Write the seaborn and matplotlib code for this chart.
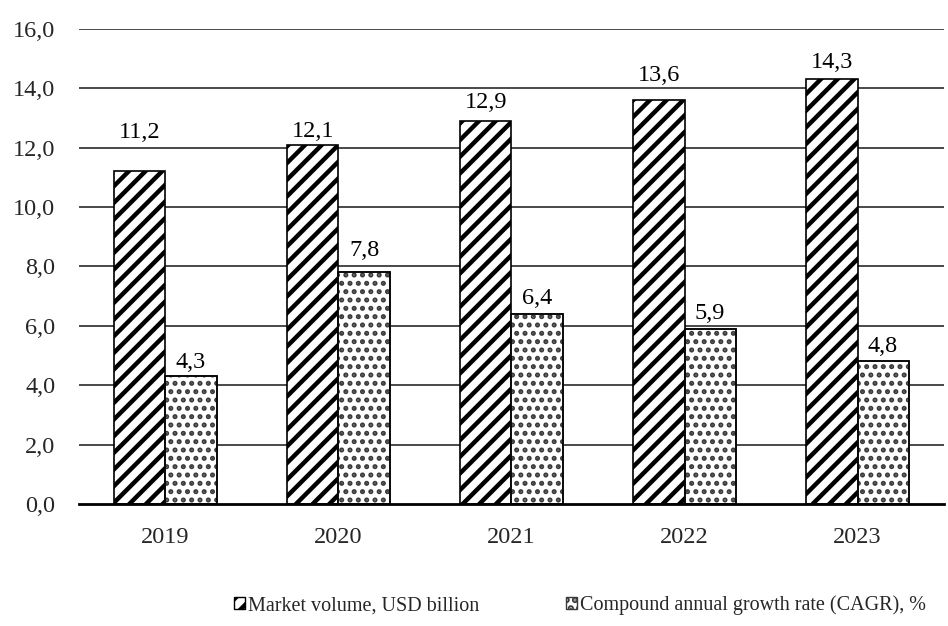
import matplotlib
matplotlib.use("Agg")
import matplotlib.pyplot as plt
from matplotlib.patches import Patch
import seaborn as sns
import pandas as pd

years = ["2019", "2020", "2021", "2022", "2023"]
market_volume = [11.2, 12.1, 12.9, 13.6, 14.3]
cagr = [4.3, 7.8, 6.4, 5.9, 4.8]
series_names = ["Market volume, USD billion", "Compound annual growth rate (CAGR), %"]
y_ticks = [0, 2, 4, 6, 8, 10, 12, 14, 16]

# label offsets above bars (points), as placed in the original
label_pad = [[20.5, 2.0, 6.0, 10.5, 4.8], [2.6, 8.4, 3.3, 3.3, 3.3]]

df = pd.DataFrame({
    "year": years * 2,
    "value": market_volume + cagr,
    "series": [series_names[0]] * len(years) + [series_names[1]] * len(years),
})

sns.set_theme(style="white")
plt.rcParams["font.family"] = ["Liberation Serif", "DejaVu Serif"]
plt.rcParams["hatch.linewidth"] = 3.2

fig = plt.figure(figsize=(9.48, 6.26), dpi=100)
ax = fig.add_axes([0.0833, 0.195, 0.9125, 0.7587])

fs = 17.5
dot_grey = "#3a3a3a"

for t in y_ticks[1:]:
    ax.axhline(t, color="#3a3a3a", lw=1.3, zorder=0)

sns.barplot(data=df, x="year", y="value", hue="series", width=0.59,
            palette=["white", "white"], edgecolor="black", linewidth=1.2,
            legend=False, ax=ax, zorder=2)

hatches = ["//", ".."]
for k, (cont, h) in enumerate(zip(ax.containers, hatches)):
    for j, bar in enumerate(cont):
        bar.set_hatch(h)
        if k == 1:
            bar.set_edgecolor(dot_grey)
            if hasattr(bar, "set_hatch_linewidth"):
                bar.set_hatch_linewidth(2.4)
            ax.add_patch(plt.Rectangle(bar.get_xy(), bar.get_width(), bar.get_height(),
                                       fill=False, edgecolor="black", lw=1.2, zorder=3))
        elif hasattr(bar, "set_hatch_linewidth"):
            bar.set_hatch_linewidth(3.2)
        v = cont.datavalues[j]
        ax.annotate(f"{v:.1f}".replace(".", ","),
                    (bar.get_x() + bar.get_width() / 2, bar.get_height()),
                    xytext=(0, label_pad[k][j]), textcoords="offset points",
                    ha="center", va="bottom", fontsize=fs, color="black")

ax.set_ylim(0, 16)
ax.set_xlim(-0.5, len(years) - 0.5)
ax.set_yticks(y_ticks)
ax.set_yticklabels([f"{t:.1f}".replace(".", ",") for t in y_ticks], fontsize=fs)
ax.tick_params(axis="y", length=0, pad=17)
ax.tick_params(axis="x", which="major", length=0, pad=16.5, labelsize=fs)
ax.set_xticks([i - 0.5 for i in range(len(years) + 1)], minor=True)
ax.tick_params(axis="x", which="minor", length=6, width=1.2, color="black", direction="out")
ax.set_xlabel("")
ax.set_ylabel("")
for s in ["left", "right", "top"]:
    ax.spines[s].set_visible(False)
ax.spines["bottom"].set_color("black")
ax.spines["bottom"].set_linewidth(2)
ax.spines["bottom"].set_zorder(4)

handles = [Patch(facecolor="white", edgecolor="black", hatch="//"),
           Patch(facecolor="white", edgecolor=dot_grey, hatch="..")]
fig.legend(handles, series_names, loc="center", bbox_to_anchor=(0.612, 0.033),
           ncol=2, frameon=False, fontsize=14.5, handlelength=0.55, handleheight=0.55,
           handletextpad=0.15, columnspacing=4.3, borderpad=0)

fig.savefig("out.png", dpi=100)
